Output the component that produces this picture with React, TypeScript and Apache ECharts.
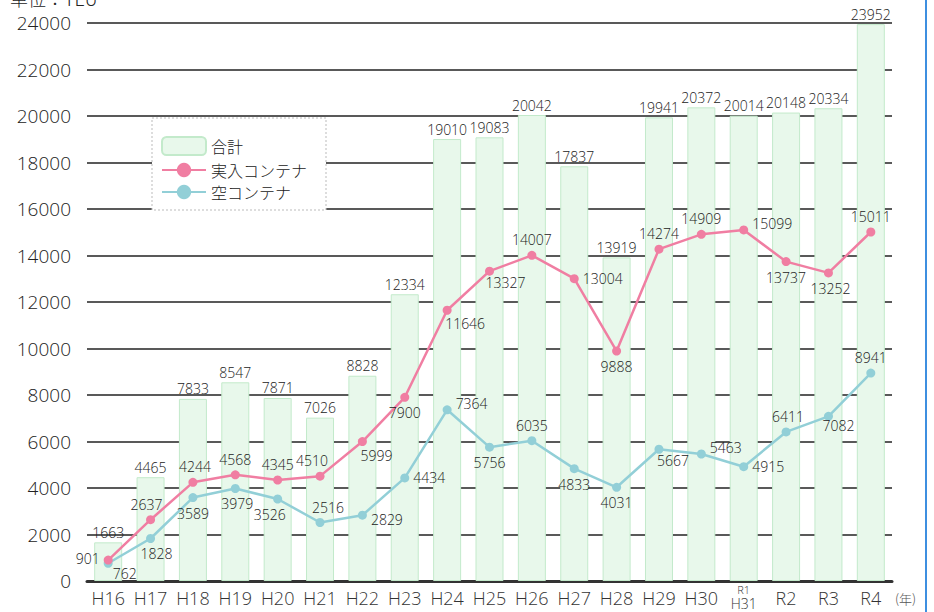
import React, { useEffect, useRef } from "react";
import * as echarts from "echarts";

const categories = ["H16", "H17", "H18", "H19", "H20", "H21", "H22", "H23", "H24", "H25", "H26", "H27", "H28", "H29", "H30", "R1\nH31", "R2", "R3", "R4"];
const totalValues = [1663, 4465, 7833, 8547, 7871, 7026, 8828, 12334, 19010, 19083, 20042, 17837, 13919, 19941, 20372, 20014, 20148, 20334, 23952];
const fullValues = [901, 2637, 4244, 4568, 4345, 4510, 5999, 7900, 11646, 13327, 14007, 13004, 9888, 14274, 14909, 15099, 13737, 13252, 15011];
const emptyValues = [762, 1828, 3589, 3979, 3526, 2516, 2829, 4434, 7364, 5756, 6035, 4833, 4031, 5667, 5463, 4915, 6411, 7082, 8941];
const yTicks = { min: 0, max: 24000, interval: 2000 };

// label placement (style only)
const fullLabelPos: [string, number, number][] = [
  ["left", 0, -2], ["top", -4, 0], ["top", 2, 0], ["top", 0, 0], ["top", 0, 0], ["top", -8, 0],
  ["bottom", 14, -2], ["bottom", 0, 0], ["bottom", 18, -2], ["bottom", 16, -4], ["top", 0, 0],
  ["right", 0, 0], ["bottom", 0, 0], ["top", 0, 0], ["top", 0, 0], ["right", 0, -6],
  ["bottom", 0, 0], ["bottom", 2, 0], ["top", 0, 0],
];
const emptyLabelPos: [string, number, number][] = [
  ["right", -4, 10], ["bottom", 6, 0], ["bottom", 0, 0], ["bottom", 2, 0], ["bottom", -8, 0],
  ["top", 8, 0], ["right", 0, 4], ["right", 0, 0], ["right", 0, -6], ["bottom", 0, 0],
  ["top", 0, 0], ["bottom", 0, 0], ["bottom", 0, 0], ["bottom", 14, -4], ["right", 0, -6],
  ["right", 0, 0], ["top", 2, 0], ["bottom", 10, -6], ["top", 0, 0],
];

const NUM_FONT = "'Open Sans', 'Noto Sans', sans-serif";
const JP_FONT = "'Noto Sans CJK JP', sans-serif";

export default function App() {
  const ref = useRef<HTMLDivElement>(null);
  useEffect(() => {
    if (!ref.current) return;
    const chart = echarts.init(ref.current, undefined, { renderer: "svg" });
    const labelStyle = { color: "#222", fontSize: 14, fontFamily: NUM_FONT, fontWeight: 300 };
    const mk = (vals: number[], pos: [string, number, number][]) =>
      vals.map((v, i) => ({
        value: v,
        label: { show: true, position: pos[i][0], offset: [pos[i][1], pos[i][2]], distance: 4, ...labelStyle },
      }));
    chart.setOption({
      animation: false,
      textStyle: { fontFamily: NUM_FONT },
      grid: { left: 87, right: 42, top: 23, bottom: 31, containLabel: false },
      legend: {
        orient: "vertical",
        left: 156,
        top: 131,
        itemWidth: 44,
        itemHeight: 18,
        itemGap: 6,
        textStyle: { fontSize: 16, color: "#222", fontFamily: JP_FONT, fontWeight: 300 },
        data: ["合計", "実入コンテナ", "空コンテナ"],
        z: 5,
      },
      xAxis: {
        type: "category",
        data: categories,
        boundaryGap: true,
        axisLine: { lineStyle: { color: "#333", width: 3 } },
        axisTick: { show: false },
        axisLabel: {
          color: "#333",
          margin: 1,
          interval: 0,
          formatter: (v: string) => {
            if (v.indexOf("\n") >= 0) {
              const [a, b] = v.split("\n");
              return `{s|${a}}\n{m|${b}}`;
            }
            return `{n|${v}}`;
          },
          rich: {
            n: { fontSize: 18, color: "#333", lineHeight: 32, fontFamily: NUM_FONT, fontWeight: 300 },
            s: { fontSize: 11, color: "#333", lineHeight: 14, fontFamily: NUM_FONT, fontWeight: 300 },
            m: { fontSize: 14, color: "#333", lineHeight: 14, fontFamily: NUM_FONT, fontWeight: 300 },
          },
        },
      },
      yAxis: {
        type: "value",
        min: yTicks.min,
        max: yTicks.max,
        interval: yTicks.interval,
        axisLine: { show: false },
        axisTick: { show: false },
        axisLabel: { color: "#222", fontSize: 19, margin: 16, fontFamily: NUM_FONT, fontWeight: 300, formatter: (v: number) => String(v) },
        splitLine: { lineStyle: { color: "#222", width: 1.5 } },
      },
      series: [
        {
          name: "合計",
          type: "bar",
          data: totalValues,
          barWidth: 28,
          itemStyle: { color: "#e8f8eb", borderColor: "#c3eacb", borderWidth: 1 },
          label: { show: true, position: "top", distance: 3, ...labelStyle },
          z: 2,
        },
        {
          name: "実入コンテナ",
          type: "line",
          data: mk(fullValues, fullLabelPos),
          symbol: "circle",
          symbolSize: 9,
          lineStyle: { color: "#f07ea2", width: 2.5 },
          itemStyle: { color: "#f07ea2" },
          z: 4,
        },
        {
          name: "空コンテナ",
          type: "line",
          data: mk(emptyValues, emptyLabelPos),
          symbol: "circle",
          symbolSize: 9,
          lineStyle: { color: "#92cfd7", width: 2.5 },
          itemStyle: { color: "#92cfd7" },
          z: 3,
        },
      ],
      graphic: [
        {
          type: "rect",
          shape: { x: 152, y: 118, width: 174, height: 92 },
          style: { fill: "#fff", stroke: "#bbb", lineWidth: 1, lineDash: [2, 2] },
          z: 3,
        },
        {
          type: "text",
          left: 10,
          top: -11,
          style: { text: "単位：TEU", fontSize: 18, fill: "#222", fontFamily: JP_FONT, fontWeight: 300 },
          z: 5,
        },
        {
          type: "text",
          left: 895,
          top: 592,
          style: { text: "(年)", fontSize: 13, fill: "#555", fontFamily: JP_FONT, fontWeight: 300 },
          z: 5,
        },
        {
          type: "line",
          shape: { x1: 926, y1: 0, x2: 926, y2: 612 },
          style: { stroke: "#3d8fe0", lineWidth: 2 },
          z: 5,
        },
      ],
    });
    return () => chart.dispose();
  }, []);
  return (
    <div
      ref={ref}
      style={{ position: "absolute", left: 0, top: 0, width: 934, height: 612, background: "#fff" }}
    />
  );
}
